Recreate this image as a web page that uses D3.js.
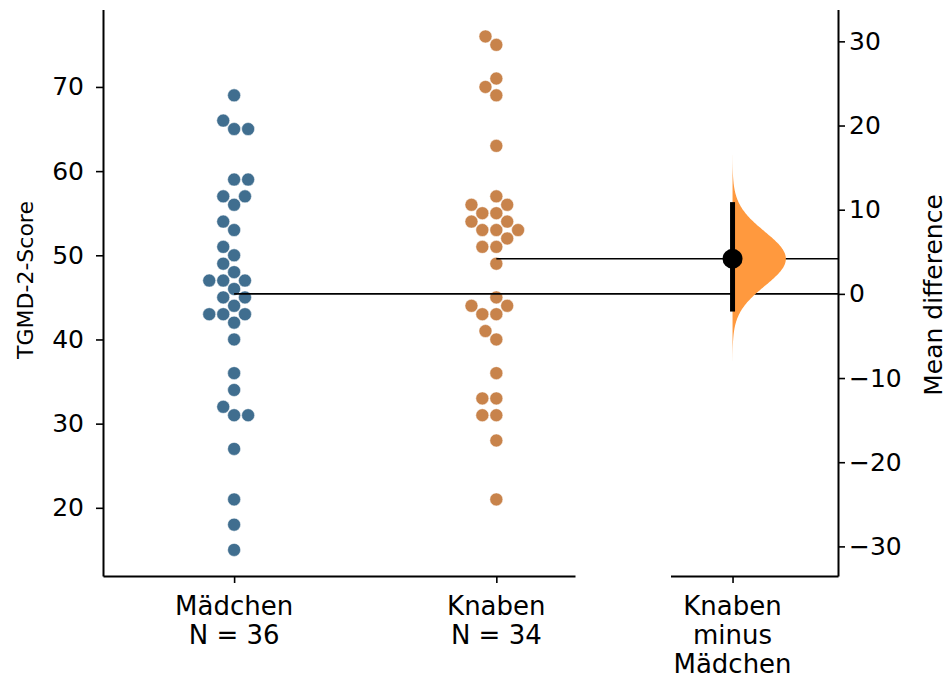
<!DOCTYPE html>
<html>
<head>
<meta charset="utf-8">
<script src="https://cdn.jsdelivr.net/npm/d3@7/dist/d3.min.js"></script>
<style>
  body { margin: 0; background: #fff; }
  svg { display: block; }
  text { font-family: "DejaVu Sans", sans-serif; fill: #000; }
</style>
</head>
<body>
<svg id="chart" width="949" height="681"></svg>
<script>
// TGMD-2 scores per group
const groups = ["Mädchen", "Knaben"];
const madchen = [69, 66, 65, 65, 59, 59, 57, 57, 56, 54, 53, 51, 50, 49, 48,
                 47, 47, 47, 46, 45, 45, 44, 43, 43, 43, 42, 40, 36, 34, 32,
                 31, 31, 27, 21, 18, 15];
const knaben = [76, 75, 71, 70, 69, 63, 57, 56, 56, 55, 55, 54, 54, 53, 53, 53,
                52, 51, 51, 49, 45, 44, 44, 43, 43, 41, 40, 36, 33, 33, 31, 31,
                28, 21];
const groupColors = ["#406e8f", "#c8834b"];
// side to which a repeated score is pushed in each swarm (+1 right, -1 left)
const duplicateSide = [1, -1];
const contrastLines = ["Knaben", "minus", "Mädchen"];
const leftTicks = [20, 30, 40, 50, 60, 70];
const rightTicks = [-30, -20, -10, 0, 10, 20, 30];
// bootstrap 95% confidence interval of the mean difference
const ciBounds = [-2.1, 10.9];
const scoreDomain = [11.9, 79.2];

const svg = d3.select("#chart");
const plotTop = 9.5, plotBottom = 576;

const yL = d3.scaleLinear().domain(scoreDomain).range([plotBottom, plotTop]);
const xRaw = d3.scaleLinear().domain([-0.5, 1.3]).range([103, 575]);
const xDiff = d3.scaleLinear().domain([-0.5, 0.85]).range([670.5, 838]);

const data = [madchen, knaben];
const means = data.map(d => d3.mean(d));
const diff = means[1] - means[0];
// right axis shares the pixel scale, zero at the control mean
const yR = d3.scaleLinear()
  .domain([scoreDomain[0] - means[0], scoreDomain[1] - means[0]])
  .range([plotBottom, plotTop]);

// swarm placement: points processed bottom-up, each put at the free spot nearest the centre
function beeswarm(values, r, side) {
  const pts = values.map(v => ({ v, y: yL(v) })).sort((a, b) => b.y - a.y);
  const placed = [];
  const sep = 2 * r;
  const step = sep * 1.05;
  for (const p of pts) {
    const neighbors = [];
    for (let j = placed.length - 1; j >= 0; j--) {
      if (Math.abs(p.y - placed[j].y) < sep) neighbors.push(placed[j]);
      else break;
    }
    const cands = [0];
    let leftFirst = true;
    for (const n of neighbors) {
      const dy = p.y - n.y;
      const dx = Math.sqrt(Math.max(sep * sep - dy * dy, 0)) * 1.05;
      if (leftFirst) cands.push(n.dx - dx, n.dx + dx);
      else cands.push(n.dx + dx, n.dx - dx);
      leftFirst = !leftFirst;
    }
    const order = cands.slice().sort((a, b) => {
      const d = Math.abs(a) - Math.abs(b);
      if (Math.abs(d) > 1e-6) return d;
      if (Math.abs(Math.abs(a) - step) < 1e-6) return side * (b - a);
      return a - b;
    });
    let chosen = 0;
    for (const c of order) {
      if (neighbors.every(n => (n.dx - c) ** 2 + (n.y - p.y) ** 2 >= sep * sep - 1e-9)) {
        chosen = c; break;
      }
    }
    placed.push({ v: p.v, y: p.y, dx: chosen });
  }
  return placed;
}

// swarms
data.forEach((vals, gi) => {
  const pts = beeswarm(vals, 6.67, duplicateSide[gi]);
  svg.append("g").selectAll("circle").data(pts).join("circle")
    .attr("cx", d => xRaw(gi) + d.dx)
    .attr("cy", d => yL(d.v))
    .attr("r", 6.5)
    .attr("fill", groupColors[gi])
    .attr("stroke", "#ffffff")
    .attr("stroke-width", 0.5);
});

// mean reference lines
means.forEach((m, gi) => {
  svg.append("line")
    .attr("x1", xRaw(gi)).attr("x2", xDiff.range()[1])
    .attr("y1", yL(m)).attr("y2", yL(m))
    .attr("stroke", "#000").attr("stroke-width", 1.6);
});

// sampling distribution of the mean difference
const se = Math.sqrt(d3.variance(madchen) / madchen.length + d3.variance(knaben) / knaben.length);
const grid = d3.range(-4.2, 4.2001, 0.05).map(z => ({ d: diff + z * se, w: Math.exp(-0.5 * z * z) }));
const halfWidth = xDiff(0.43) - xDiff(0);
svg.append("path")
  .datum(grid)
  .attr("d", d3.area()
    .y(p => yR(p.d))
    .x0(xDiff(0))
    .x1(p => xDiff(0) + p.w * halfWidth)
    .curve(d3.curveBasis))
  .attr("fill", "#ff993e");

// confidence interval and point estimate
svg.append("line")
  .attr("x1", xDiff(0)).attr("x2", xDiff(0))
  .attr("y1", yR(ciBounds[0])).attr("y2", yR(ciBounds[1]))
  .attr("stroke", "#000").attr("stroke-width", 5);
svg.append("circle")
  .attr("cx", xDiff(0)).attr("cy", yR(diff)).attr("r", 10).attr("fill", "#000");

// axes
function styleAxis(g, size) {
  g.selectAll(".domain").attr("stroke", "#000").attr("stroke-width", 2);
  g.selectAll(".tick line").attr("stroke", "#000").attr("stroke-width", 1.6);
  g.selectAll("text").style("font-size", size + "px").style("font-family", '"DejaVu Sans", sans-serif');
}

const gL = svg.append("g").attr("transform", `translate(${xRaw.range()[0]},0)`)
  .call(d3.axisLeft(yL).tickValues(leftTicks).tickSize(7).tickSizeOuter(0).tickPadding(12));
styleAxis(gL, 25);

const gR = svg.append("g").attr("transform", `translate(${xDiff.range()[1]},0)`)
  .call(d3.axisRight(yR).tickValues(rightTicks).tickSize(7).tickSizeOuter(0).tickPadding(4));
styleAxis(gR, 25);

const gB = svg.append("g").attr("transform", `translate(0,${plotBottom})`)
  .call(d3.axisBottom(xRaw).tickValues([0, 1]).tickSize(7).tickSizeOuter(0).tickFormat(""));
styleAxis(gB, 26);

const gC = svg.append("g").attr("transform", `translate(0,${plotBottom})`)
  .call(d3.axisBottom(xDiff).tickValues([0]).tickSize(7).tickSizeOuter(0).tickFormat(""));
styleAxis(gC, 26);

// category labels
const lineGap = 29;
groups.forEach((g, gi) => {
  const t = svg.append("text").attr("text-anchor", "middle").style("font-size", "26px");
  [g, `N = ${data[gi].length}`].forEach((s, k) => {
    t.append("tspan").attr("x", xRaw(gi)).attr("y", 615 + k * lineGap).text(s);
  });
});
const tc = svg.append("text").attr("text-anchor", "middle").style("font-size", "26px");
contrastLines.forEach((s, k) => {
  tc.append("tspan").attr("x", xDiff(0)).attr("y", 615 + k * lineGap).text(s);
});

// axis titles
svg.append("text")
  .attr("transform", `translate(33,280) rotate(-90)`)
  .attr("text-anchor", "middle")
  .style("font-size", "22px")
  .text("TGMD-2-Score");
svg.append("text")
  .attr("transform", `translate(942,295) rotate(-90)`)
  .attr("text-anchor", "middle")
  .style("font-size", "25px")
  .text("Mean difference");
</script>
</body>
</html>
